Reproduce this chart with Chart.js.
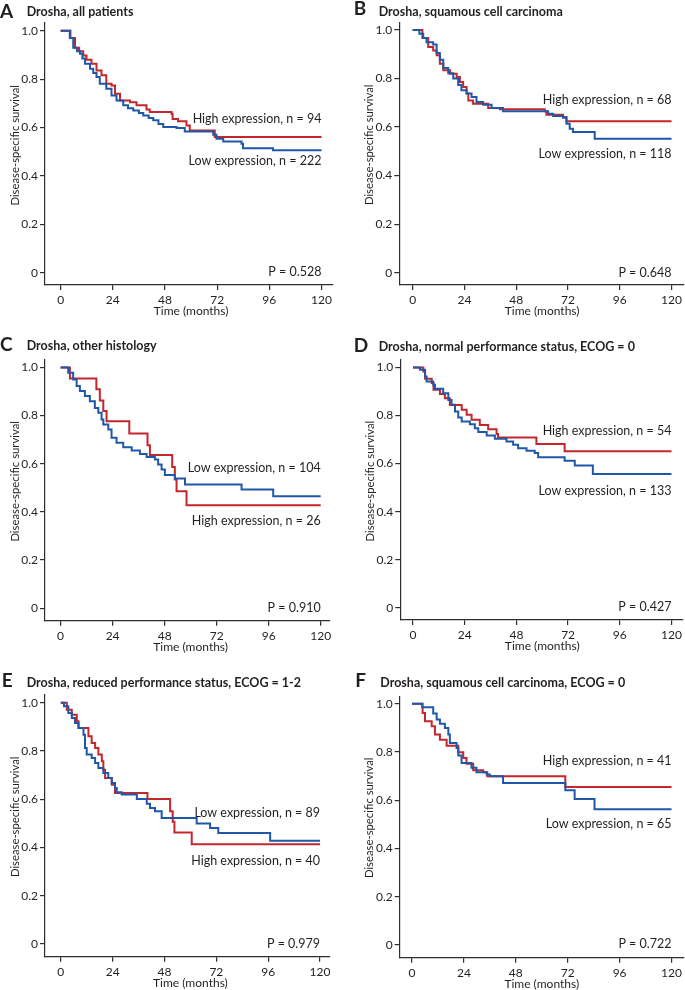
<!DOCTYPE html>
<html><head><meta charset="utf-8">
<script src="https://cdn.jsdelivr.net/npm/chart.js@4.4.1/dist/chart.umd.min.js"></script>
<style>
html,body{margin:0;padding:0;background:#fff;}
body{width:685px;height:990px;position:relative;overflow:hidden;}
canvas{position:absolute;display:block;}
</style></head><body>
<canvas id="cA" width="342" height="330" style="left:0;top:0"></canvas>
<canvas id="cB" width="343" height="330" style="left:342px;top:0"></canvas>
<canvas id="cC" width="342" height="330" style="left:0;top:330px"></canvas>
<canvas id="cD" width="343" height="330" style="left:342px;top:330px"></canvas>
<canvas id="cE" width="342" height="330" style="left:0;top:660px"></canvas>
<canvas id="cF" width="343" height="330" style="left:342px;top:660px"></canvas>
<script>
// ---------- text / categories ----------
const panelKeys = ['A','B','C','D','E','F'];
const panelTitles = [
  'Drosha, all patients',
  'Drosha, squamous cell carcinoma',
  'Drosha, other histology',
  'Drosha, normal performance status, ECOG = 0',
  'Drosha, reduced performance status, ECOG = 1-2',
  'Drosha, squamous cell carcinoma, ECOG = 0'
];
const highLabels = ['High expression, n = 94','High expression, n = 68','High expression, n = 26','High expression, n = 54','High expression, n = 40','High expression, n = 41'];
const lowLabels  = ['Low expression, n = 222','Low expression, n = 118','Low expression, n = 104','Low expression, n = 133','Low expression, n = 89','Low expression, n = 65'];
const pValues = ['P = 0.528','P = 0.648','P = 0.910','P = 0.427','P = 0.979','P = 0.722'];
const xTicks = [0,24,48,72,96,120];
const yTicks = [0,0.2,0.4,0.6,0.8,1.0];
const xAxisTitle = 'Time (months)';
const yAxisTitle = 'Disease-specific survival';

// ---------- series (time in months, survival) ----------
const A_low_t  = [0,4.2,5.8,7.5,8.9,10,11.2,13.5,15,16.5,18,21,23.4,25.7,28.8,31,33.4,36,38,40.5,42.6,45,47.2,53.3,57.1,70.2,71.7,74.8,83.2,83.9,97.7,120];
const A_low_s  = [1,0.97,0.93,0.915,0.905,0.885,0.864,0.843,0.825,0.809,0.781,0.76,0.733,0.712,0.692,0.68,0.671,0.66,0.65,0.64,0.63,0.615,0.602,0.598,0.584,0.57,0.554,0.543,0.533,0.515,0.506,0.506];
const A_high_t = [0,4.5,6.6,8.5,10.4,11.9,14.2,16.5,18.8,21,23.4,25,27.3,31.9,34.9,39.5,41,51,51.5,54,57.9,59.4,70.9,120];
const A_high_s = [1,0.97,0.93,0.915,0.898,0.88,0.864,0.836,0.816,0.781,0.774,0.74,0.712,0.705,0.692,0.675,0.664,0.657,0.636,0.626,0.609,0.588,0.561,0.561];

const B_low_t  = [0,3.1,4.9,6.4,9.5,11.1,12.6,14.2,16.5,18.8,21.1,22.6,25,27.3,29.6,32.7,36.6,41.9,62.8,65.1,69.7,71.3,72.8,74.3,84.4,120];
const B_low_s  = [1,0.985,0.967,0.95,0.94,0.905,0.877,0.843,0.822,0.8,0.773,0.752,0.738,0.724,0.703,0.692,0.679,0.665,0.655,0.646,0.638,0.614,0.593,0.58,0.552,0.552];
const B_high_t = [0,4.5,7.2,9.5,11.1,12.6,14.2,17.3,20.4,21.9,23.4,25,25.8,28,35,40.4,61.2,62,69.7,71.3,120];
const B_high_s = [1,0.967,0.93,0.916,0.896,0.861,0.834,0.82,0.806,0.786,0.765,0.738,0.71,0.696,0.679,0.673,0.665,0.651,0.642,0.624,0.624];

const C_low_t  = [0,3.5,5.8,7.4,8.9,11.2,13.5,15.8,17.4,18.9,19.7,22,23.5,25.8,28.9,32.8,36.6,39.7,43.5,45,46.6,48.1,52.7,57.4,83.5,98.1,120];
const C_low_s  = [1,0.978,0.95,0.923,0.902,0.881,0.86,0.832,0.812,0.784,0.763,0.742,0.708,0.687,0.669,0.655,0.641,0.628,0.618,0.597,0.576,0.553,0.539,0.514,0.493,0.465,0.465];
const C_high_t = [0,4.3,16.5,18.1,19.7,21.2,31.7,40.1,41.2,51.5,52.7,53.5,58.1,120];
const C_high_s = [1,0.954,0.909,0.863,0.819,0.777,0.726,0.677,0.636,0.586,0.535,0.486,0.428,0.428];

const D_low_t  = [0,3.2,5.6,6.3,9.4,10.2,14,16.4,17.9,19.5,21,22.6,26.4,28.7,30.3,34.2,38,43.4,46.5,48.8,52.7,56.5,58.1,70.4,75.1,83.5,120];
const D_low_s  = [1,0.99,0.962,0.942,0.928,0.911,0.893,0.865,0.845,0.817,0.792,0.775,0.764,0.747,0.731,0.717,0.703,0.692,0.678,0.664,0.653,0.644,0.626,0.612,0.592,0.557,0.557];
const D_high_t = [0,4.8,5.6,8.7,9.5,12.5,14.8,17.1,22.6,24.9,27.2,31,34.9,38.8,39.5,57.3,70.4,120];
const D_high_s = [1,0.983,0.953,0.935,0.907,0.889,0.872,0.844,0.824,0.803,0.782,0.761,0.743,0.723,0.709,0.681,0.651,0.651];

const E_low_t  = [0,1.5,3.5,5.1,6.6,8.2,10.5,11.2,12,14.3,15.9,17.4,19.7,22,23.6,25.1,25.9,28.2,35.2,39.8,41.3,43.6,46.7,62.9,69.1,72.9,96.9,120];
const E_low_s  = [1,0.985,0.957,0.937,0.916,0.895,0.867,0.812,0.785,0.771,0.75,0.729,0.709,0.688,0.667,0.646,0.629,0.619,0.601,0.581,0.564,0.55,0.522,0.499,0.481,0.46,0.428,0.428];
const E_high_t = [0,2.8,5.1,7.4,8.2,12.8,14.3,15.9,17.4,19,19.7,20.5,23.6,25.1,40.1,50.6,51.8,52.6,60.6,120];
const E_high_s = [1,0.971,0.95,0.923,0.895,0.861,0.833,0.812,0.785,0.757,0.722,0.688,0.66,0.626,0.601,0.55,0.507,0.462,0.413,0.413];

const F_low_t  = [0,4.7,9.8,11.4,12.9,15.2,16.8,17.5,20.6,21.4,22.9,27.5,29.8,34.5,36,42.1,70.9,75.2,84.4,120];
const F_low_s  = [1,0.985,0.959,0.934,0.917,0.899,0.872,0.837,0.816,0.785,0.754,0.734,0.716,0.706,0.699,0.671,0.641,0.605,0.562,0.562];
const F_high_t = [0,4.9,6,9.1,10.6,12.9,16,21.4,23.7,25.2,28.3,32.9,34.8,70.9,120];
const F_high_s = [1,0.961,0.927,0.906,0.872,0.851,0.826,0.799,0.775,0.751,0.724,0.716,0.699,0.655,0.655];

// ---------- layout (positions & styles) ----------
const RED = '#c4262e', BLUE = '#1f58a8', INK = '#231f20', AXIS = '#2e2e2e';
const FONT = 'Lato, "Open Sans", sans-serif';
const layouts = {
  A:{w:342,h:330, area:[45,23,333,285],      x:[-7.2,125.3], y:[-0.05,1.032],  letter:[0,18.3],   title:[26.7,16],   hiY:0.617, loY:0.445, pY:-0.014},
  B:{w:343,h:330, area:[57.3,23,341.7,285],  x:[-6.2,125.4], y:[-0.051,1.029], letter:[11.7,15],  title:[36.7,15.7], hiY:0.695, loY:0.471, pY:-0.016},
  C:{w:342,h:330, area:[45,30,330,290.7],    x:[-7.2,124.3], y:[-0.052,1.031], letter:[0,20.7],   title:[26.7,20],   hiY:0.346, loY:0.564, pY:-0.014},
  D:{w:343,h:330, area:[58.3,30,340.7,290],  x:[-5.9,125],   y:[-0.051,1.031], letter:[11.7,21.7],title:[36.7,20.7], hiY:0.718, loY:0.469, pY:-0.014},
  E:{w:342,h:330, area:[45,35,330,296.7],    x:[-7.3,124.6], y:[-0.053,1.032], letter:[1.7,26.7], title:[26.7,26.7], hiY:0.327, loY:0.525, pY:-0.018},
  F:{w:343,h:330, area:[57.7,36.7,341.7,297.7], x:[-5.7,125.4], y:[-0.053,1.029], letter:[13.3,26.7], title:[38.3,27.3], hiY:0.746, loY:0.484, pY:-0.014}
};
const series = {
  A:[A_low_t,A_low_s,A_high_t,A_high_s], B:[B_low_t,B_low_s,B_high_t,B_high_s],
  C:[C_low_t,C_low_s,C_high_t,C_high_s], D:[D_low_t,D_low_s,D_high_t,D_high_s],
  E:[E_low_t,E_low_s,E_high_t,E_high_s], F:[F_low_t,F_low_s,F_high_t,F_high_s]
};
function xy(t, s){ return t.map((v,i)=>({x:v, y:s[i]})); }

const kmText = {
  id:'kmText',
  afterDraw(chart, args, opts){
    const {ctx, chartArea, scales:{x, y}} = chart;
    const L = opts.layout, i = opts.index;
    ctx.save();
    ctx.fillStyle = INK;
    ctx.textBaseline = 'alphabetic';
    ctx.textAlign = 'left';
    ctx.font = 'bold 19px ' + FONT;
    ctx.fillText(panelKeys[i], L.letter[0], L.letter[1]);
    ctx.font = 'bold 12.5px ' + FONT;
    ctx.fillText(panelTitles[i], L.title[0], L.title[1]);
    ctx.font = '12.5px ' + FONT;
    ctx.textAlign = 'right';
    const xr = x.getPixelForValue(120);
    ctx.fillText(highLabels[i], xr, y.getPixelForValue(L.hiY));
    ctx.fillText(lowLabels[i], xr, y.getPixelForValue(L.loY));
    ctx.fillText(pValues[i], xr, y.getPixelForValue(L.pY));
    ctx.textAlign = 'center';
    ctx.textBaseline = 'middle';
    ctx.font = '12px ' + FONT;
    ctx.fillText(xAxisTitle, x.getPixelForValue(60), chartArea.bottom + 26);
    ctx.translate(chartArea.left - 30, y.getPixelForValue(0.527));
    ctx.rotate(-Math.PI/2);
    ctx.font = '11.3px ' + FONT;
    ctx.fillText(yAxisTitle, 0, 0);
    ctx.restore();
  }
};

panelKeys.forEach((key, idx) => {
  const L = layouts[key];
  const S = series[key];
  new Chart(document.getElementById('c'+key), {
    type:'line',
    data:{datasets:[
      {label: lowLabels[idx], data: xy(S[0], S[1]), borderColor: BLUE},
      {label: highLabels[idx], data: xy(S[2], S[3]), borderColor: RED}
    ]},
    options:{
      responsive:false, animation:false, parsing:true,
      layout:{padding:{left:0, top:L.area[1], right:L.w - L.area[2], bottom:0}},
      elements:{point:{radius:0, hoverRadius:0}, line:{borderWidth:2, stepped:true, tension:0, fill:false, borderCapStyle:'butt', borderJoinStyle:'miter'}},
      plugins:{legend:{display:false}, tooltip:{enabled:false}, title:{display:false}, kmText:{layout:L, index:idx}},
      events:[],
      scales:{
        x:{type:'linear', min:L.x[0], max:L.x[1],
           afterBuildTicks: s => { s.ticks = xTicks.map(v => ({value:v})); },
           afterFit: s => { s.height = L.h - L.area[3]; },
           ticks:{font:{family:FONT, size:12}, color:INK, padding:3, maxRotation:0, autoSkip:false, callback: v => String(v)},
           grid:{display:true, drawOnChartArea:false, drawTicks:true, tickLength:5, color:AXIS, lineWidth:1.2},
           border:{display:true, color:AXIS, width:1.2}},
        y:{type:'linear', min:L.y[0], max:L.y[1],
           afterBuildTicks: s => { s.ticks = yTicks.map(v => ({value:v})); },
           afterFit: s => { s.width = L.area[0]; },
           ticks:{font:{family:FONT, size:12}, color:INK, padding:2, autoSkip:false, callback: v => v === 0 ? '0' : v.toFixed(1)},
           grid:{display:true, drawOnChartArea:false, drawTicks:true, tickLength:5, color:AXIS, lineWidth:1.2},
           border:{display:true, color:AXIS, width:1.2}}
      }
    },
    plugins:[kmText]
  });
});
</script>
</body></html>
